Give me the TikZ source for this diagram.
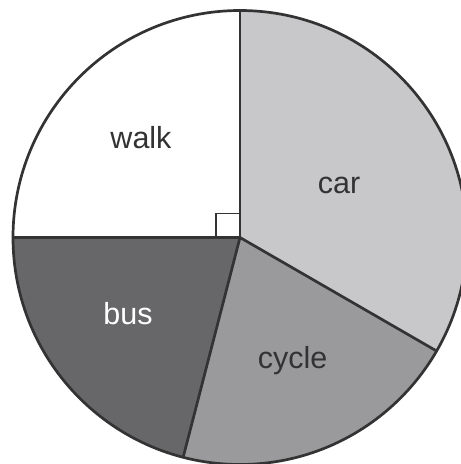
\documentclass[tikz,border=0pt]{standalone}
\usepackage{fontspec}
\setmainfont{Liberation Sans}
\usetikzlibrary{calc}
\definecolor{carfill}{HTML}{C8C8CA}
\definecolor{cyclefill}{HTML}{9A9A9D}
\definecolor{busfill}{HTML}{67676A}
\definecolor{edge}{HTML}{333333}
\definecolor{txt}{HTML}{333333}
\tikzset{
  slice/.style={draw=edge, line width=2.7pt, line join=round},
  lab/.style={font=\fontsize{30.5}{36}\selectfont, text=txt, anchor=base, inner sep=0pt},
  rightmark/.style={draw=edge, line width=1.5pt}
}
\begin{document}
\begin{tikzpicture}[x=1pt,y=1pt]
\useasboundingbox (0,0) rectangle (461,464);
\clip (0,0) rectangle (461,464);
\coordinate (O) at (240,226.5);
\def\R{227}
% slices
\fill[white] (O) -- ++(90:\R) arc[start angle=90,end angle=180,radius=\R] -- cycle;
\fill[busfill] (O) -- ++(180:\R) arc[start angle=180,end angle=255.5,radius=\R] -- cycle;
\fill[cyclefill] (O) -- ++(255.5:\R) arc[start angle=255.5,end angle=330,radius=\R] -- cycle;
\fill[carfill] (O) -- ++(-30:\R) arc[start angle=-30,end angle=90,radius=\R] -- cycle;
% right angle marker
\draw[rightmark] ($(O)+(-24,0)$) -- ++(0,24) -- ++(24,0);
% radii
\coordinate (Ptop) at ($(O)+(90:\R)$);
\coordinate (Pleft) at ($(O)+(180:\R)$);
\coordinate (Pbot) at ($(O)+(255.5:\R)$);
\coordinate (Pright) at ($(O)+(-30:\R)$);
\draw[slice] (Ptop) -- (O) -- (Pleft);
\draw[slice] (O) -- (Pbot);
\draw[slice] (O) -- (Pright);
\draw[slice] (O) circle[radius=\R];
% labels
\node[lab] (walk) at (141,315) {walk};
\node[lab] (car) at (339,270) {car};
\node[lab, text=white] (bus) at (128,139) {bus};
\node[lab] (cyc) at (292.5,95) {cycle};
\end{tikzpicture}
\end{document}
